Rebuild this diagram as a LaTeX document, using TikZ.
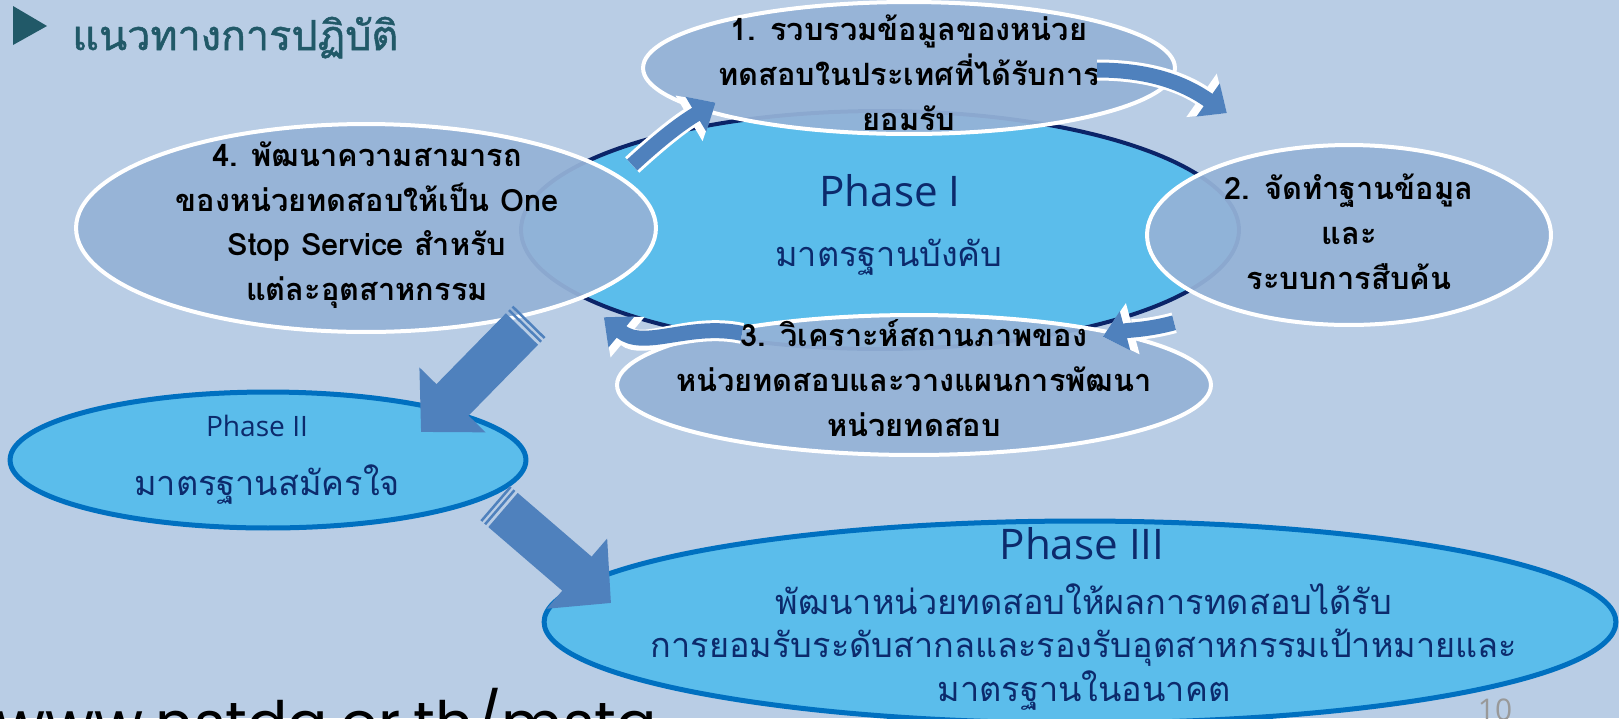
\documentclass[tikz,border=0pt]{standalone}
\usepackage{fontspec}
\usepackage{tikz}
\usetikzlibrary{shapes.geometric, arrows.meta, positioning}

\newfontfamily\thaifont[Script=Thai]{Loma}
\newfontfamily\titlefont[Script=Thai, FakeBold=1.2]{Loma}
\newfontfamily\phasefont{Open Sans}
\newfontfamily\urlfont{Poppins}

\definecolor{bgblue}{HTML}{B9CDE5}
\definecolor{stepfill}{HTML}{95B3D7}
\definecolor{phasefill}{HTML}{5BBDEB}
\definecolor{phaseline}{HTML}{0070C0}
\definecolor{navyline}{HTML}{0B2468}
\definecolor{navytext}{HTML}{0C2A6C}
\definecolor{arrowblue}{HTML}{4F81BD}
\definecolor{titleteal}{HTML}{215968}

\tikzset{
  stepell/.style={ellipse, draw=white, line width=0.08cm, fill=stepfill, fill opacity=0.93, inner sep=0pt},
  phaseell/.style={ellipse, draw=phaseline, line width=0.1cm, fill=phasefill, inner sep=0pt},
  steptext/.style={align=center, inner sep=0pt, text=black, font=\thaifont\bfseries\fontsize{17.5}{25.5}\selectfont},
  phasetitle/.style={inner sep=0pt, text=navytext, font=\phasefont\fontsize{24}{28}\selectfont},
  phasedesc/.style={align=center, inner sep=0pt, text=navytext, font=\thaifont\fontsize{19.5}{25}\selectfont},
  loopArrow/.style={draw=arrowblue, line width=0.3cm, shorten >=0.1cm, shorten <=0.06cm,
    -{Triangle[length=0.46cm, width=0.78cm]},
    preaction={draw=white, line width=0.42cm, -{Triangle[length=0.62cm, width=1.02cm]}}},
  bigArrow/.style={draw=arrowblue, line width=0.9cm, -{Triangle[length=0.9cm, width=1.8cm]}},
  stripebar/.style={rectangle, fill=arrowblue, inner sep=0pt, minimum width=0.05cm, minimum height=0.9cm}
}

\begin{document}
\begin{tikzpicture}[x=0.02cm, y=-0.02cm]
    % Background
    \fill[bgblue] (0,0) rectangle (1619,718);
    \useasboundingbox (0,0) rectangle (1619,718);

    % Title
    \fill[titleteal] (13,6) -- (13,45) -- (47,26) -- cycle;
    \node[anchor=base west, inner sep=0pt, text=titleteal, font=\titlefont\fontsize{23.5}{28}\selectfont] (title) at (72,50) {แนวทางการปฏิบัติ};

    % Phase I and its steps
    \node[ellipse, draw=navyline, line width=0.08cm, fill=phasefill, minimum width=14.36cm, minimum height=4.76cm] (p1) at (880,230) {};
    \node[phasetitle] (p1t) at (890,191) {Phase I};
    \node[phasedesc] (p1d) at (889,257) {มาตรฐานบังคับ};

    \node[stepell, minimum width=10.64cm, minimum height=2.64cm] (e1) at (909,68) {};
    \node[stepell, minimum width=8.08cm, minimum height=3.6cm] (e2) at (1349,235) {};
    \node[stepell, minimum width=11.88cm, minimum height=2.8cm] (e3) at (914,385) {};
    \node[stepell, minimum width=11.6cm, minimum height=4.16cm] (e4) at (366,228) {};

    \node[steptext] (t1) at (909,73) {1. รวบรวมข้อมูลของหน่วย\\ทดสอบในประเทศที่ได้รับการ\\ยอมรับ};
    \node[steptext] (t2) at (1349,232) {2. จัดทำฐานข้อมูล\\และ\\ระบบการสืบค้น};
    \node[steptext] (t3) at (914,378) {3. วิเคราะห์สถานภาพของ\\หน่วยทดสอบและวางแผนการพัฒนา\\หน่วยทดสอบ};
    \node[steptext] (t4) at (367,225) {4. พัฒนาความสามารถ\\ของหน่วยทดสอบให้เป็น One\\Stop Service สำหรับ\\แต่ละอุตสาหกรรม};

    % Phase II and III
    \node[phaseell, minimum width=10.32cm, minimum height=2.72cm] (p2) at (268,460) {};
    \node[phasetitle, font=\phasefont\fontsize{16}{20}\selectfont] (p2t) at (257,426) {Phase II};
    \node[phasedesc] (p2d) at (267,485) {มาตรฐานสมัครใจ};

    \node[phaseell, minimum width=21.44cm, minimum height=4.04cm] (p3) at (1080,622) {};
    \node[phasetitle] (p3t) at (1082,544) {Phase III};
    \node[phasedesc] (p3d) at (1084,647) {พัฒนาหน่วยทดสอบให้ผลการทดสอบได้รับ\\การยอมรับระดับสากลและรองรับอุตสาหกรรมเป้าหมายและ\\มาตรฐานในอนาคต};

    % Loop arrows
    \coordinate (a1s) at (630,167);
    \coordinate (a1e) at (720,100);
    \coordinate (a2s) at (1094,70);
    \coordinate (a2e) at (1231,116);
    \coordinate (a3s) at (1177,322);
    \coordinate (a3e) at (1098,338);
    \coordinate (a4s) at (745,334);
    \coordinate (a4e) at (600,314);
    \draw[loopArrow] (a1s) to[bend left=6] (a1e);
    \draw[loopArrow] (a2s) to[out=0, in=145] (a2e);
    \draw[loopArrow] (a3s) to[out=195, in=15] (a3e);
    \draw[loopArrow] (a4s) to[out=168, in=-40] (a4e);

    % Phase arrows
    \coordinate (e4out) at (522,329);
    \coordinate (p2in) at (421,432);
    \coordinate (p2out) at (503,510);
    \coordinate (p3in) at (611,603);
    \draw[bigArrow] (e4out) -- (p2in);
    \path (e4out) -- (p2in) node[stripebar, pos=-0.03, sloped] {} node[stripebar, pos=-0.065, sloped] {};
    \draw[bigArrow] (p2out) -- (p3in);
    \path (p2out) -- (p3in) node[stripebar, pos=-0.03, sloped] {} node[stripebar, pos=-0.065, sloped] {};

    % Footer
    \node[anchor=base west, inner sep=0pt, font=\urlfont\fontsize{34}{40}\selectfont] (url) at (-4,744) {www.nstda.or.th/mstq};
    \node[anchor=base, inner sep=0pt, text=gray!80, font=\phasefont\fontsize{17}{20}\selectfont] (pageno) at (1495,720) {10};
\end{tikzpicture}
\end{document}
